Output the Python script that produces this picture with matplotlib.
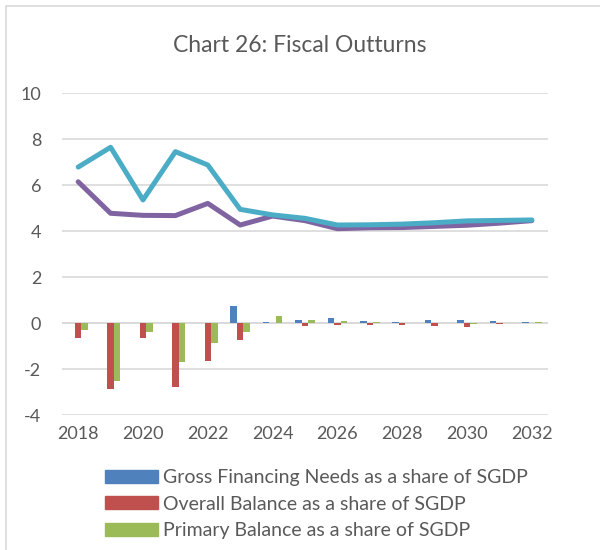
import numpy as np
import matplotlib
matplotlib.use('agg')
import matplotlib.pyplot as plt
import matplotlib.patches as mpatches

plt.rcParams['font.family'] = ['Lato', 'DejaVu Sans']
plt.rcParams['axes.unicode_minus'] = False

years = list(range(2018, 2033))
gross_fin = [0.0, 0.0, 0.0, 0.0, 0.0, 0.72, 0.03, 0.12, 0.22, 0.10, 0.06, 0.12, 0.15, 0.10, 0.05]
overall_bal = [-0.64, -2.86, -0.67, -2.80, -1.64, -0.72, 0.0, -0.12, -0.08, -0.08, -0.08, -0.12, -0.18, -0.05, 0.0]
primary_bal = [-0.32, -2.50, -0.38, -1.70, -0.88, -0.37, 0.29, 0.12, 0.10, 0.05, 0.0, 0.0, -0.03, 0.0, 0.03]
line_cyan = [6.78, 7.64, 5.35, 7.45, 6.87, 4.94, 4.70, 4.55, 4.26, 4.27, 4.30, 4.36, 4.44, 4.46, 4.48]
line_purple = [6.14, 4.77, 4.68, 4.67, 5.20, 4.26, 4.65, 4.45, 4.10, 4.14, 4.15, 4.20, 4.25, 4.34, 4.45]

c_blue = '#4F81BD'
c_red = '#C0504D'
c_green = '#9BBB59'
c_cyan = '#4BACC6'
c_purple = '#8064A2'
txt = '#595959'
grid = '#D9D9D9'

fig = plt.figure(figsize=(6, 5.5), dpi=100)
ax = fig.add_axes([62/600, 1-415/550, 486/600, 322/550])

x = np.arange(len(years))
w = 0.2
ax.bar(x - w, gross_fin, w, color=c_blue, zorder=3)
ax.bar(x, overall_bal, w, color=c_red, zorder=3)
ax.bar(x + w, primary_bal, w, color=c_green, zorder=3)

ax.plot(x, line_purple, color=c_purple, lw=3.6, solid_capstyle='round', solid_joinstyle='round', zorder=4)
ax.plot(x, line_cyan, color=c_cyan, lw=3.6, solid_capstyle='round', solid_joinstyle='round', zorder=5)

ax.set_xlim(-0.5, len(years) - 0.5)
ax.set_ylim(-4, 10)
ax.set_yticks(range(-4, 11, 2))
ax.set_xticks(x[::2])
ax.set_xticklabels([str(y) for y in years[::2]])
ax.yaxis.grid(True, color=grid, lw=1.2, zorder=0)
ax.set_axisbelow(True)
for s in ax.spines.values():
    s.set_visible(False)
ax.tick_params(length=0, labelsize=13, colors=txt)
ax.tick_params(axis='y', pad=15)
ax.tick_params(axis='x', pad=8)
ax.axhline(0, color=grid, lw=1.2, zorder=2)

fig.text(0.5, 1-45/550, 'Chart 26: Fiscal Outturns', ha='center', va='center', fontsize=16.5, color=txt)

handles = [mpatches.Patch(color=c_blue), mpatches.Patch(color=c_red), mpatches.Patch(color=c_green)]
labels = ['Gross Financing Needs as a share of SGDP',
          'Overall Balance as a share of SGDP',
          'Primary Balance as a share of SGDP']
leg = fig.legend(handles, labels, loc='upper left', bbox_to_anchor=(105/600, 1-469/550),
                 frameon=False, fontsize=14, handlelength=2.7, handleheight=0.65,
                 handletextpad=0.28, labelspacing=0.5, borderpad=0, borderaxespad=0)
for t in leg.get_texts():
    t.set_color(txt)

fig.patches.append(mpatches.Rectangle((6/600, -0.2), 1.5, 1.2 - 6/550, transform=fig.transFigure,
                                      fill=False, edgecolor=grid, lw=1.2))

fig.savefig('out.png', dpi=100)
